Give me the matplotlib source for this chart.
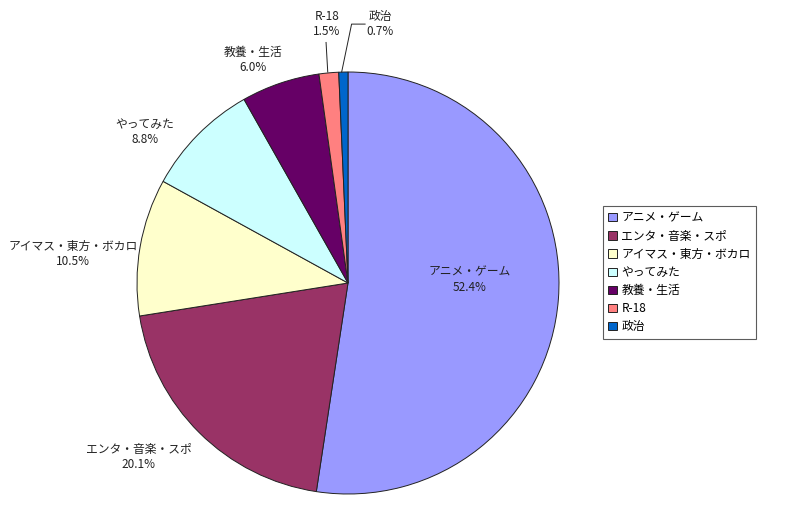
import matplotlib
matplotlib.use('Agg')
import matplotlib.pyplot as plt

plt.rcParams['font.family'] = ['Noto Sans CJK JP', 'DejaVu Sans']

# データ
categories = ['アニメ・ゲーム', 'エンタ・音楽・スポ', 'アイマス・東方・ボカロ',
              'やってみた', '教養・生活', 'R-18', '政治']
shares = [52.4, 20.1, 10.5, 8.8, 6.0, 1.5, 0.7]
colors = ['#9999FF', '#993366', '#FFFFCC', '#CCFFFF', '#660066', '#FF8080', '#0066CC']

# ラベル位置 (円の半径=1 の座標系)
label_pos = [(0.578, 0.014), (-0.991, -0.824), (-1.303, 0.137), (-0.962, 0.716),
             (-0.450, 1.057), (-0.100, 1.227), (0.152, 1.227)]

W, H = 800, 507
fig = plt.figure(figsize=(W / 100, H / 100), dpi=100)
cx, cy, r = 348, 283, 211
ax = fig.add_axes([(cx - r) / W, (H - cy - r) / H, 2 * r / W, 2 * r / H])

wedges, _ = ax.pie(shares, colors=colors, startangle=90, counterclock=False,
                   wedgeprops=dict(edgecolor='#222222', linewidth=0.7))
ax.set_xlim(-1, 1)
ax.set_ylim(-1, 1)
ax.set_aspect('equal')
ax.axis('off')

for name, val, (x, y) in zip(categories, shares, label_pos):
    ax.text(x, y, f'{name}\n{val:.1f}%', ha='center', va='center',
            fontsize=8.5, color='#222222', linespacing=1.25, clip_on=False)

# 引出線
ax.plot([-0.104, -0.096], [1.140, 1.0], color='#222222', lw=0.7, clip_on=False)
ax.plot([0.081, 0.017, -0.030], [1.227, 1.227, 1.0], color='#222222', lw=0.7, clip_on=False)

leg = fig.legend(wedges, categories, loc='upper left',
                 bbox_to_anchor=(603 / W, 1 - 206 / H),
                 fontsize=8.5, frameon=True, fancybox=False,
                 handlelength=0.7, handleheight=0.7, handletextpad=0.4,
                 labelspacing=0.44, borderpad=0.45, borderaxespad=0)
leg.get_frame().set_edgecolor('#333333')
leg.get_frame().set_linewidth(0.8)

fig.savefig('out.png', dpi=100)
